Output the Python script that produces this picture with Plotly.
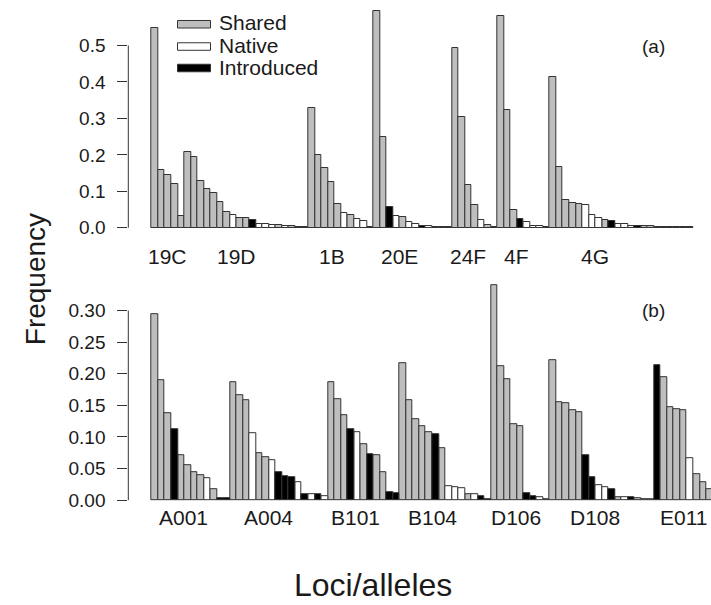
import plotly.graph_objects as go

# ---------------- data ----------------
# panel (a)
top_loci = ["19C", "19D", "1B", "20E", "24F", "4F", "4G"]
top_freq = [
    [0.548, 0.158, 0.146, 0.121, 0.032],
    [0.208, 0.193, 0.128, 0.105, 0.094, 0.071, 0.044, 0.035, 0.027, 0.027,
     0.021, 0.010, 0.009, 0.008, 0.007, 0.006, 0.004, 0.002, 0.001],
    [0.328, 0.200, 0.164, 0.125, 0.066, 0.041, 0.035, 0.025, 0.018, 0.003],
    [0.594, 0.248, 0.057, 0.033, 0.029, 0.015, 0.010, 0.005, 0.004, 0.002, 0.001, 0.001],
    [0.492, 0.303, 0.118, 0.063, 0.022, 0.007, 0.001],
    [0.581, 0.323, 0.050, 0.023, 0.015, 0.005, 0.005, 0.001],
    [0.413, 0.166, 0.075, 0.068, 0.064, 0.061, 0.036, 0.027, 0.022, 0.018, 0.010,
     0.010, 0.006, 0.005, 0.004, 0.004, 0.003, 0.003, 0.002, 0.002, 0.001, 0.001],
]
# S = Shared, N = Native, I = Introduced
top_type = [
    "SSSSS",
    "SSSSSSSNSSINNNSNSIS",
    "SSSSSNSNNS",
    "SSINSNNINSSS",
    "SSSSNSS",
    "SSSINNNS",
    "SSSSSNNNSINNNISSSSSSSS",
]
top_label_pos = [1.9, 12.5, 27.1, 37.4, 47.9, 55.4, 67.5]

# panel (b)
bot_loci = ["A001", "A004", "B101", "B104", "D106", "D108", "E011"]
bot_freq = [
    [0.295, 0.190, 0.138, 0.112, 0.072, 0.056, 0.045, 0.039, 0.035, 0.018, 0.003, 0.003],
    [0.187, 0.166, 0.159, 0.106, 0.074, 0.068, 0.063, 0.044, 0.038, 0.037, 0.029,
     0.010, 0.009, 0.009, 0.006],
    [0.186, 0.160, 0.134, 0.113, 0.108, 0.089, 0.073, 0.072, 0.045, 0.013, 0.011],
    [0.217, 0.158, 0.128, 0.117, 0.107, 0.105, 0.082, 0.022, 0.021, 0.019, 0.010,
     0.010, 0.007, 0.002],
    [0.341, 0.212, 0.191, 0.120, 0.117, 0.011, 0.007, 0.005, 0.002],
    [0.222, 0.155, 0.154, 0.142, 0.140, 0.072, 0.036, 0.024, 0.020, 0.017, 0.005,
     0.005, 0.005, 0.003, 0.001, 0.001],
    [0.213, 0.194, 0.147, 0.144, 0.142, 0.067, 0.041, 0.028, 0.018],
]
bot_type = [
    "SSSISSSSNSII",
    "SSSNSSNIIINININ",
    "SSSINSISSII",
    "SSSSSISNNNSNII",
    "SSSSSIINS",
    "SSSSSIINNISNISSS",
    "ISSSSNSSS",
]
bot_label_pos = [4.4, 17.4, 30.7, 42.6, 55.3, 67.5, 81.1]

top_yticks = [0.0, 0.1, 0.2, 0.3, 0.4, 0.5]
bot_yticks = [0.0, 0.05, 0.10, 0.15, 0.20, 0.25, 0.30]

series = [("S", "Shared", "#bebebe"), ("N", "Native", "#ffffff"), ("I", "Introduced", "#000000")]

# ---------------- layout helpers ----------------
W, H = 711, 605
FONT = "Liberation Sans, Arial, Helvetica, sans-serif"


def px(x):
    return x / W


def py(y):
    return 1 - y / H


BAR_PX = 6.525          # pixels per bar
AX_X = 128.3            # y-axis line position
FIRST_BAR = 151.7       # left edge of first bar
x_lo = -0.5 - (FIRST_BAR - AX_X) / BAR_PX
x_hi = x_lo + (W - AX_X) / BAR_PX


def yrange(p0, k, yb, yt):
    return [-(yb - p0) / k, (p0 - yt) / k], [py(yb), py(yt)]


top_rng, top_dom = yrange(230, 368.0, 235, 0)
bot_rng, bot_dom = yrange(505.2, 638.3, 510, 285)

fig = go.Figure()


def add_panel(freqs, types, xa, ya):
    xs = {"S": [], "N": [], "I": []}
    ys = {"S": [], "N": [], "I": []}
    i = 0
    for f, t in zip(freqs, types):
        for v, c in zip(f, t):
            xs[c].append(i)
            ys[c].append(v)
            i += 1
    for code, name, col in series:
        fig.add_trace(go.Bar(
            x=xs[code], y=ys[code], name=name, width=1.0,
            marker=dict(color=col, line=dict(color="#333333", width=1)),
            xaxis=xa, yaxis=ya, showlegend=False,
        ))


add_panel(top_freq, top_type, "x", "y")
add_panel(bot_freq, bot_type, "x2", "y2")

tickfont = dict(family=FONT, size=19, color="#1a1a1a")
namefont = dict(family=FONT, size=21, color="#1a1a1a")

common_x = dict(range=[x_lo, x_hi], domain=[px(AX_X), 1.0], showgrid=False,
                zeroline=False, showline=False, showticklabels=False, ticks="")
fig.update_layout(
    width=W, height=H,
    margin=dict(l=0, r=0, t=0, b=0),
    paper_bgcolor="white", plot_bgcolor="white",
    barmode="overlay", bargap=0,
    xaxis=dict(**common_x, anchor="y"),
    xaxis2=dict(**common_x, anchor="y2"),
    yaxis=dict(range=top_rng, domain=top_dom, anchor="x", showgrid=False,
               zeroline=False, showline=False, ticks="outside", ticklen=10,
               tickwidth=1, tickcolor="#333333", tickvals=top_yticks,
               ticktext=[f"{v:.1f}" for v in top_yticks], tickfont=tickfont,
               ticklabelstandoff=8),
    yaxis2=dict(range=bot_rng, domain=bot_dom, anchor="x2", showgrid=False,
                zeroline=False, showline=False, ticks="outside", ticklen=10,
                tickwidth=1, tickcolor="#333333", tickvals=bot_yticks,
                ticktext=[f"{v:.2f}" for v in bot_yticks], tickfont=tickfont,
                ticklabelstandoff=8),
    showlegend=False,
)

shapes = []
# R-style axis lines spanning only the tick range
shapes.append(dict(type="line", xref="x domain", yref="y", x0=0, x1=0,
                   y0=top_yticks[0], y1=top_yticks[-1],
                   line=dict(color="#333333", width=1)))
shapes.append(dict(type="line", xref="x2 domain", yref="y2", x0=0, x1=0,
                   y0=bot_yticks[0], y1=bot_yticks[-1],
                   line=dict(color="#333333", width=1)))

annotations = []
# locus labels
for lab, pos in zip(top_loci, top_label_pos):
    annotations.append(dict(text=lab, x=pos, xref="x", y=py(259.5), yref="paper",
                            showarrow=False, xanchor="center", yanchor="middle",
                            font=namefont))
for lab, pos in zip(bot_loci, bot_label_pos):
    annotations.append(dict(text=lab, x=pos, xref="x2", y=py(523), yref="paper",
                            showarrow=False, xanchor="center", yanchor="middle",
                            font=namefont))

# legend (manual, R-style wide boxes)
leg_rows = [(24.5, 23.0), (47.0, 46.0), (68.7, 68.0)]
for (code, name, col), (by, ty) in zip(series, leg_rows):
    shapes.append(dict(type="rect", xref="paper", yref="paper",
                       x0=px(177.5), x1=px(210.5), y0=py(by - 3.8), y1=py(by + 3.8),
                       fillcolor=col, line=dict(color="#333333", width=1)))
    annotations.append(dict(text=name, x=px(216.5), y=py(ty), xref="paper", yref="paper",
                            showarrow=False, xanchor="left", yanchor="middle",
                            font=dict(family=FONT, size=21, color="#1a1a1a")))

annotations.append(dict(text="(a)", x=px(653), y=py(47), xref="paper", yref="paper",
                        showarrow=False, xanchor="center", yanchor="middle",
                        font=dict(family=FONT, size=19, color="#1a1a1a")))
annotations.append(dict(text="(b)", x=px(653), y=py(313.5), xref="paper", yref="paper",
                        showarrow=False, xanchor="center", yanchor="middle",
                        font=dict(family=FONT, size=19, color="#1a1a1a")))
annotations.append(dict(text="Frequency", x=px(35), y=py(282), xref="paper", yref="paper",
                        showarrow=False, xanchor="center", yanchor="middle", textangle=-90,
                        font=dict(family=FONT, size=28, color="#1a1a1a")))
annotations.append(dict(text="Loci/alleles", x=px(373), y=py(591), xref="paper", yref="paper",
                        showarrow=False, xanchor="center", yanchor="middle",
                        font=dict(family=FONT, size=32, color="#1a1a1a")))

fig.update_layout(shapes=shapes, annotations=annotations)
fig.write_html("out.html")
